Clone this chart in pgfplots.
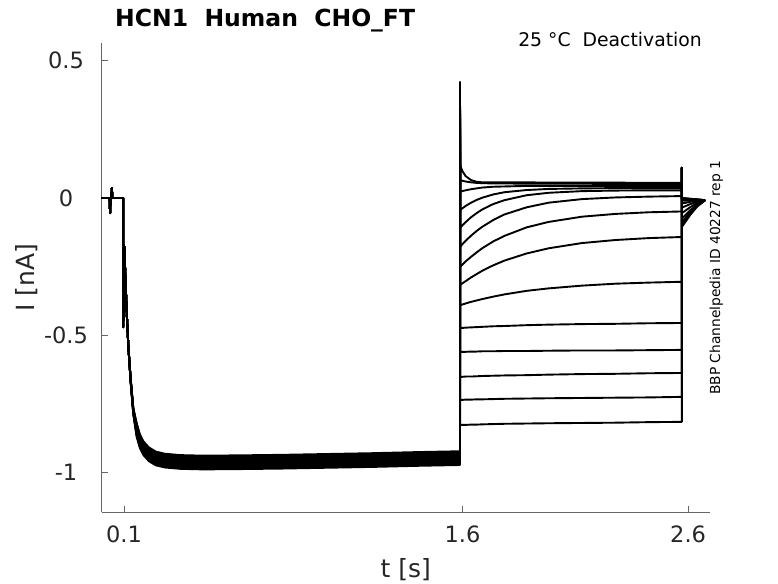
\documentclass[border=0pt]{standalone}
\usepackage{pgfplots}
\usepackage{pgfplotstable}
\pgfplotsset{compat=1.18}
\usepackage{fontspec}
\setmainfont{DejaVu Sans}

\pgfplotstableread{
t      c1     c2     c3     c4     c5     c6     c7     c8     c9     c10    c11    c12    c13    c14
0      0      0      0      0      0      0      0      0      0      0      0      0      0      0
0.036  0      0      0      0      0      0      0      0      0      0      0      0      0      0
0.038  -0.055 -0.055 -0.055 -0.055 -0.055 -0.055 -0.055 -0.055 -0.055 -0.055 -0.055 -0.055 -0.055 -0.055
0.040  0      0      0      0      0      0      0      0      0      0      0      0      0      0
0.044  0      0      0      0      0      0      0      0      0      0      0      0      0      0
0.046  0.036  0.036  0.036  0.036  0.036  0.036  0.036  0.036  0.036  0.036  0.036  0.036  0.036  0.036
0.048  0      0      0      0      0      0      0      0      0      0      0      0      0      0
0.0960 0      0      0      0      0      0      0      0      0      0      0      0      0      0
0.0965 -0.47  -0.47  -0.47  -0.47  -0.47  -0.47  -0.47  -0.47  -0.47  -0.47  -0.47  -0.47  -0.47  -0.47
0.0980 -0.17  -0.17  -0.17  -0.17  -0.17  -0.17  -0.17  -0.17  -0.17  -0.17  -0.17  -0.17  -0.17  -0.17
0.1015 -0.18  -0.18  -0.18  -0.18  -0.18  -0.18  -0.18  -0.18  -0.18  -0.18  -0.18  -0.18  -0.18  -0.18
0.105  -0.27  -0.27  -0.27  -0.27  -0.27  -0.27  -0.27  -0.27  -0.27  -0.27  -0.27  -0.27  -0.27  -0.27
0.112  -0.42  -0.42  -0.42  -0.42  -0.42  -0.42  -0.42  -0.42  -0.42  -0.42  -0.42  -0.42  -0.42  -0.42
0.119  -0.54  -0.54  -0.54  -0.54  -0.54  -0.54  -0.54  -0.54  -0.54  -0.54  -0.54  -0.54  -0.54  -0.54
0.129  -0.655 -0.657 -0.658 -0.659 -0.660 -0.660 -0.661 -0.661 -0.662 -0.663 -0.664 -0.665 -0.666 -0.668
0.141  -0.765 -0.767 -0.769 -0.771 -0.773 -0.774 -0.775 -0.776 -0.777 -0.779 -0.781 -0.783 -0.785 -0.787
0.156  -0.820 -0.824 -0.828 -0.832 -0.835 -0.839 -0.843 -0.847 -0.851 -0.855 -0.858 -0.862 -0.866 -0.870
0.170  -0.860 -0.864 -0.868 -0.872 -0.875 -0.879 -0.883 -0.887 -0.891 -0.895 -0.898 -0.902 -0.906 -0.910
0.185  -0.885 -0.889 -0.893 -0.897 -0.900 -0.904 -0.908 -0.912 -0.916 -0.920 -0.923 -0.927 -0.931 -0.935
0.210  -0.908 -0.912 -0.916 -0.920 -0.923 -0.927 -0.931 -0.935 -0.939 -0.943 -0.946 -0.950 -0.954 -0.958
0.240  -0.923 -0.927 -0.931 -0.935 -0.938 -0.942 -0.946 -0.950 -0.954 -0.958 -0.961 -0.965 -0.969 -0.973
0.280  -0.931 -0.935 -0.939 -0.943 -0.946 -0.950 -0.954 -0.958 -0.962 -0.966 -0.969 -0.973 -0.977 -0.981
0.350  -0.936 -0.940 -0.944 -0.948 -0.951 -0.955 -0.959 -0.963 -0.967 -0.971 -0.974 -0.978 -0.982 -0.986
0.450  -0.938 -0.942 -0.946 -0.950 -0.953 -0.957 -0.961 -0.965 -0.969 -0.973 -0.976 -0.980 -0.984 -0.988
0.600  -0.937 -0.941 -0.945 -0.949 -0.952 -0.956 -0.960 -0.964 -0.968 -0.972 -0.975 -0.979 -0.983 -0.987
0.800  -0.935 -0.939 -0.943 -0.947 -0.950 -0.954 -0.958 -0.962 -0.966 -0.970 -0.973 -0.977 -0.981 -0.985
1.000  -0.932 -0.936 -0.940 -0.944 -0.947 -0.951 -0.955 -0.959 -0.963 -0.967 -0.970 -0.974 -0.978 -0.982
1.200  -0.929 -0.933 -0.937 -0.941 -0.944 -0.948 -0.952 -0.956 -0.960 -0.964 -0.967 -0.971 -0.975 -0.979
1.400  -0.925 -0.929 -0.933 -0.937 -0.940 -0.944 -0.948 -0.952 -0.956 -0.960 -0.963 -0.967 -0.971 -0.975
1.589  -0.922 -0.926 -0.930 -0.934 -0.937 -0.941 -0.945 -0.949 -0.953 -0.957 -0.960 -0.964 -0.968 -0.972
1.589  0.42   0.42   0.42   0.42   0.42   0.42   0.42   0.42   0.42   0.42   0.42   0.42   0.42   0.42
1.5895 0.120  0.065  0.022  -0.044 -0.109 -0.178 -0.251 -0.317 -0.390 -0.473 -0.560 -0.651 -0.735 -0.826
1.5988 0.099  0.063  0.025  -0.038 -0.100 -0.169 -0.243 -0.311 -0.388 -0.473 -0.560 -0.651 -0.735 -0.826
1.6136 0.080  0.060  0.028  -0.029 -0.088 -0.156 -0.231 -0.303 -0.384 -0.472 -0.560 -0.650 -0.734 -0.826
1.6382 0.065  0.057  0.032  -0.017 -0.070 -0.137 -0.214 -0.289 -0.378 -0.471 -0.559 -0.650 -0.734 -0.825
1.6627 0.059  0.055  0.035  -0.007 -0.055 -0.120 -0.198 -0.277 -0.373 -0.470 -0.559 -0.649 -0.733 -0.825
1.6873 0.057  0.054  0.038  0.001  -0.042 -0.105 -0.183 -0.265 -0.368 -0.469 -0.558 -0.648 -0.733 -0.824
1.7365 0.057  0.053  0.041  0.013  -0.022 -0.080 -0.158 -0.245 -0.359 -0.467 -0.558 -0.647 -0.732 -0.823
1.7856 0.057  0.053  0.042  0.021  -0.008 -0.060 -0.138 -0.228 -0.351 -0.466 -0.557 -0.646 -0.731 -0.822
1.8839 0.057  0.052  0.044  0.029  0.010  -0.034 -0.107 -0.202 -0.338 -0.463 -0.557 -0.645 -0.730 -0.821
1.9822 0.056  0.052  0.044  0.033  0.019  -0.017 -0.087 -0.183 -0.329 -0.461 -0.556 -0.643 -0.729 -0.820
2.1297 0.056  0.052  0.044  0.035  0.025  -0.004 -0.068 -0.164 -0.319 -0.459 -0.555 -0.641 -0.728 -0.819
2.2771 0.056  0.051  0.044  0.036  0.027  0.002  -0.058 -0.153 -0.312 -0.458 -0.555 -0.640 -0.727 -0.818
2.4246 0.055  0.051  0.044  0.036  0.028  0.005  -0.052 -0.146 -0.308 -0.456 -0.554 -0.638 -0.726 -0.816
2.572  0.055  0.051  0.044  0.036  0.028  0.007  -0.049 -0.142 -0.305 -0.455 -0.553 -0.637 -0.724 -0.815
2.572  0.11   0.11   0.11   0.11   0.11   0.11   0.11   0.11   0.11   0.11   0.11   0.11   0.11   0.11
2.5725 0.000  0.000  -0.002 -0.004 -0.006 -0.010 -0.020 -0.035 -0.055 -0.075 -0.088 -0.095 -0.100 -0.105
2.610  -0.003 -0.003 -0.004 -0.005 -0.006 -0.009 -0.014 -0.022 -0.033 -0.044 -0.051 -0.055 -0.058 -0.061
2.640  -0.005 -0.005 -0.006 -0.006 -0.007 -0.008 -0.010 -0.014 -0.019 -0.024 -0.027 -0.029 -0.030 -0.031
2.675  -0.008 -0.008 -0.008 -0.008 -0.008 -0.008 -0.008 -0.008 -0.008 -0.008 -0.008 -0.008 -0.008 -0.008
}\traces

\begin{document}
\begin{tikzpicture}
\path[use as bounding box] (0pt,0pt) rectangle (778pt,583pt);
\begin{axis}[
  at={(101.5pt,70.7pt)}, anchor=south west,
  scale only axis, width=608.5pt, height=469.3pt,
  xmin=0, xmax=2.697, ymin=-1.1442, ymax=0.5643,
  axis x line=bottom, axis y line=left,
  axis line style={-, draw=black!60, line width=0.7pt},
  every tick/.style={draw=black!60, line width=0.7pt},
  major tick length=6pt, tick align=inside,
  xtick={0.1,1.6,2.6}, xticklabels={0.1,1.6,2.6},
  ytick={-1,-0.5,0,0.5}, yticklabels={-1,-0.5,0,0.5},
  ticklabel style={font=\fontsize{22.5}{26}\selectfont, text=black!85},
  xticklabel style={anchor=center, inner sep=0pt, yshift=-22pt},
  yticklabel style={anchor=center, inner sep=0pt, xshift=-35.5pt},
  xlabel={t [s]}, ylabel={I [nA]},
  label style={font=\fontsize{25}{30}\selectfont, text=black!85, inner sep=0pt},
  xlabel style={at={(axis description cs:0.5,0)}, anchor=base, yshift=-64.7pt},
  ylabel style={at={(axis description cs:0,0.5)}, anchor=base, yshift=66.5pt},
]
\pgfplotsinvokeforeach{1,...,14}{
  \addplot[black, line width=1.9pt, line join=round] table[x=t, y=c#1] {\traces};
}
\end{axis}
\node[anchor=base west, inner sep=0pt, font=\fontsize{23.5}{28}\selectfont\bfseries] at (115pt,556.3pt) {HCN1\ \ Human\ \ CHO\_FT};
\node[anchor=base east, inner sep=0pt, font=\fontsize{18.8}{22}\selectfont] at (702pt,536.3pt) {25 °C\ \ Deactivation};
\node[anchor=base west, inner sep=0pt, rotate=90, font=\fontsize{13.8}{16}\selectfont] at (720pt,188pt) {BBP Channelpedia ID 40227 rep 1};
\end{tikzpicture}
\end{document}
